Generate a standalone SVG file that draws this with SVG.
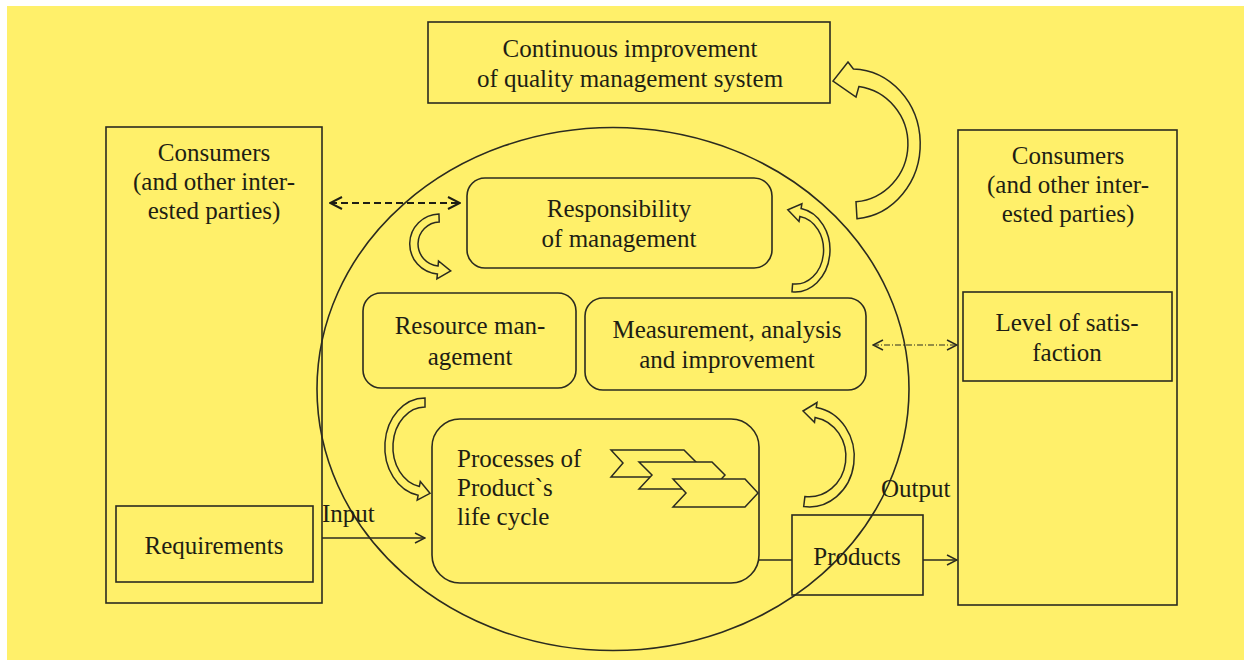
<svg xmlns="http://www.w3.org/2000/svg" width="1250" height="662" viewBox="0 0 1250 662">
<style>
.bx{fill:none;stroke:#2b2b20;stroke-width:1.6}
.t{font-family:"Liberation Serif","Times New Roman",serif;font-size:25px;fill:#1e1e14;text-anchor:middle}
.tl{text-anchor:start}
.ln{fill:none;stroke:#2b2b20;stroke-width:1.4}
.ca{fill:#fff06a;stroke:#2b2b20;stroke-width:1.5;stroke-linejoin:miter}
.ch{fill:#fff06a;stroke:#2b2b20;stroke-width:1.5}
</style>
<defs>
<marker id="ah" viewBox="0 0 12 12" refX="11" refY="6" markerWidth="12" markerHeight="12" markerUnits="userSpaceOnUse" orient="auto-start-reverse">
<path d="M1,1 L11,6 L1,11" fill="none" stroke="#2b2b20" stroke-width="1.5"/>
</marker>
<marker id="ah2" viewBox="0 0 14 14" refX="13" refY="7" markerWidth="14" markerHeight="14" markerUnits="userSpaceOnUse" orient="auto-start-reverse">
<path d="M1,1 L13,7 L1,13" fill="none" stroke="#1e1e14" stroke-width="2"/>
</marker>
</defs>
<rect x="0" y="0" width="1250" height="662" fill="#ffffff"/>
<rect x="7" y="6" width="1237" height="654" fill="#fff06a"/>

<g id="circle">
<ellipse cx="613" cy="389" rx="296" ry="261.5" class="bx" stroke-width="1.4"/>
</g>

<g id="continuous-improvement">
<rect x="428" y="22" width="402" height="81" class="bx"/>
<text class="t" x="630" y="57">Continuous improvement</text>
<text class="t" x="630" y="87">of quality management system</text>
</g>

<g id="consumers-left">
<rect x="106" y="127" width="216" height="476" class="bx"/>
<text class="t" x="214" y="161">Consumers</text>
<text class="t" x="214" y="190">(and other inter-</text>
<text class="t" x="214" y="219">ested parties)</text>
</g>

<g id="requirements">
<rect x="116" y="506" width="197" height="76" class="bx"/>
<text class="t" x="214" y="554">Requirements</text>
</g>

<g id="consumers-right">
<rect x="958" y="130" width="219" height="475" class="bx"/>
<text class="t" x="1068" y="164">Consumers</text>
<text class="t" x="1068" y="193">(and other inter-</text>
<text class="t" x="1068" y="222">ested parties)</text>
</g>

<g id="satisfaction">
<rect x="963" y="292" width="209" height="89" class="bx"/>
<text class="t" x="1067" y="331">Level of satis-</text>
<text class="t" x="1067" y="361">faction</text>
</g>

<g id="responsibility">
<rect x="467" y="178" width="305" height="90" rx="18" class="bx"/>
<text class="t" x="619" y="217">Responsibility</text>
<text class="t" x="619" y="247">of management</text>
</g>

<g id="resource">
<rect x="363" y="293" width="213" height="95" rx="18" class="bx"/>
<text class="t" x="470" y="334">Resource man-</text>
<text class="t" x="470" y="365">agement</text>
</g>

<g id="measurement">
<rect x="585" y="298" width="281" height="92" rx="18" class="bx"/>
<text class="t" x="727" y="338">Measurement, analysis</text>
<text class="t" x="727" y="368">and improvement</text>
</g>

<g id="processes">
<rect x="432" y="419" width="327" height="164" rx="28" class="bx"/>
<text class="t tl" x="457" y="467">Processes of</text>
<text class="t tl" x="457" y="496">Product`s</text>
<text class="t tl" x="457" y="525">life cycle</text>
<polygon class="ch" points="611,450 684,450 697,463 684,477 611,477 623,463"/>
<polygon class="ch" stroke="#6a6a50" stroke-width="1.2" points="639,462 712,462 725,475 712,489 639,489 652,475"/>
<polygon class="ch" points="673,479 745,479 758,493 745,507 673,507 686,493"/>
</g>

<g id="products">
<rect x="792" y="515" width="131" height="80" class="bx"/>
<text class="t" x="857" y="565">Products</text>
</g>

<g id="connectors">
<line x1="330" y1="203" x2="460" y2="203" stroke="#1e1e14" stroke-width="2" stroke-dasharray="7,4" marker-start="url(#ah2)" marker-end="url(#ah2)"/>
<line x1="873" y1="345" x2="957" y2="345" stroke="#2b2b20" stroke-width="1.1" stroke-dasharray="6,2,1,2" marker-start="url(#ah)" marker-end="url(#ah)"/>
<line x1="322" y1="538" x2="425" y2="538" class="ln" marker-end="url(#ah)"/>
<line x1="759" y1="560" x2="792" y2="560" class="ln"/>
<line x1="923" y1="560" x2="957" y2="560" class="ln" marker-end="url(#ah)"/>
<path class="ca" d="M857,218.7 A69 75 0 0 0 853.4,69 L848,62 L833,81 L856,97 L858.9,86.6 A57 58 0 0 1 856,201.8 Z"/>
<path class="ca" d="M438.95,214 A30 30 0 0 0 437.4,273.9 L436.9,278.9 L450.7,271 L438.5,260.9 L438.1,265.9 A22 22 0 0 1 439.2,222 Z"/>
<path class="ca" d="M792,291.8 A35 42 0 0 0 801.1,208.6 L801.9,203.7 L787.8,209.8 L799,221.4 L799.9,216.5 A28 34 0 0 1 792.6,283.9 Z"/>
<path class="ca" d="M425,398 A40 49 0 0 0 418.1,495.3 L417.2,500.2 L430,493.3 L420.3,481.5 L419.4,486.4 A32 40 0 0 1 425,407 Z"/>
<path class="ca" d="M803.7,506.5 A45 50 0 0 0 816.3,407.5 L817,402.5 L803,411 L814.5,422.3 L815.1,417.4 A37 40 0 0 1 804.9,496.6 Z"/>
<text class="t tl" x="322" y="522">Input</text>
<text class="t tl" x="881" y="497">Output</text>
</g>
</svg>
